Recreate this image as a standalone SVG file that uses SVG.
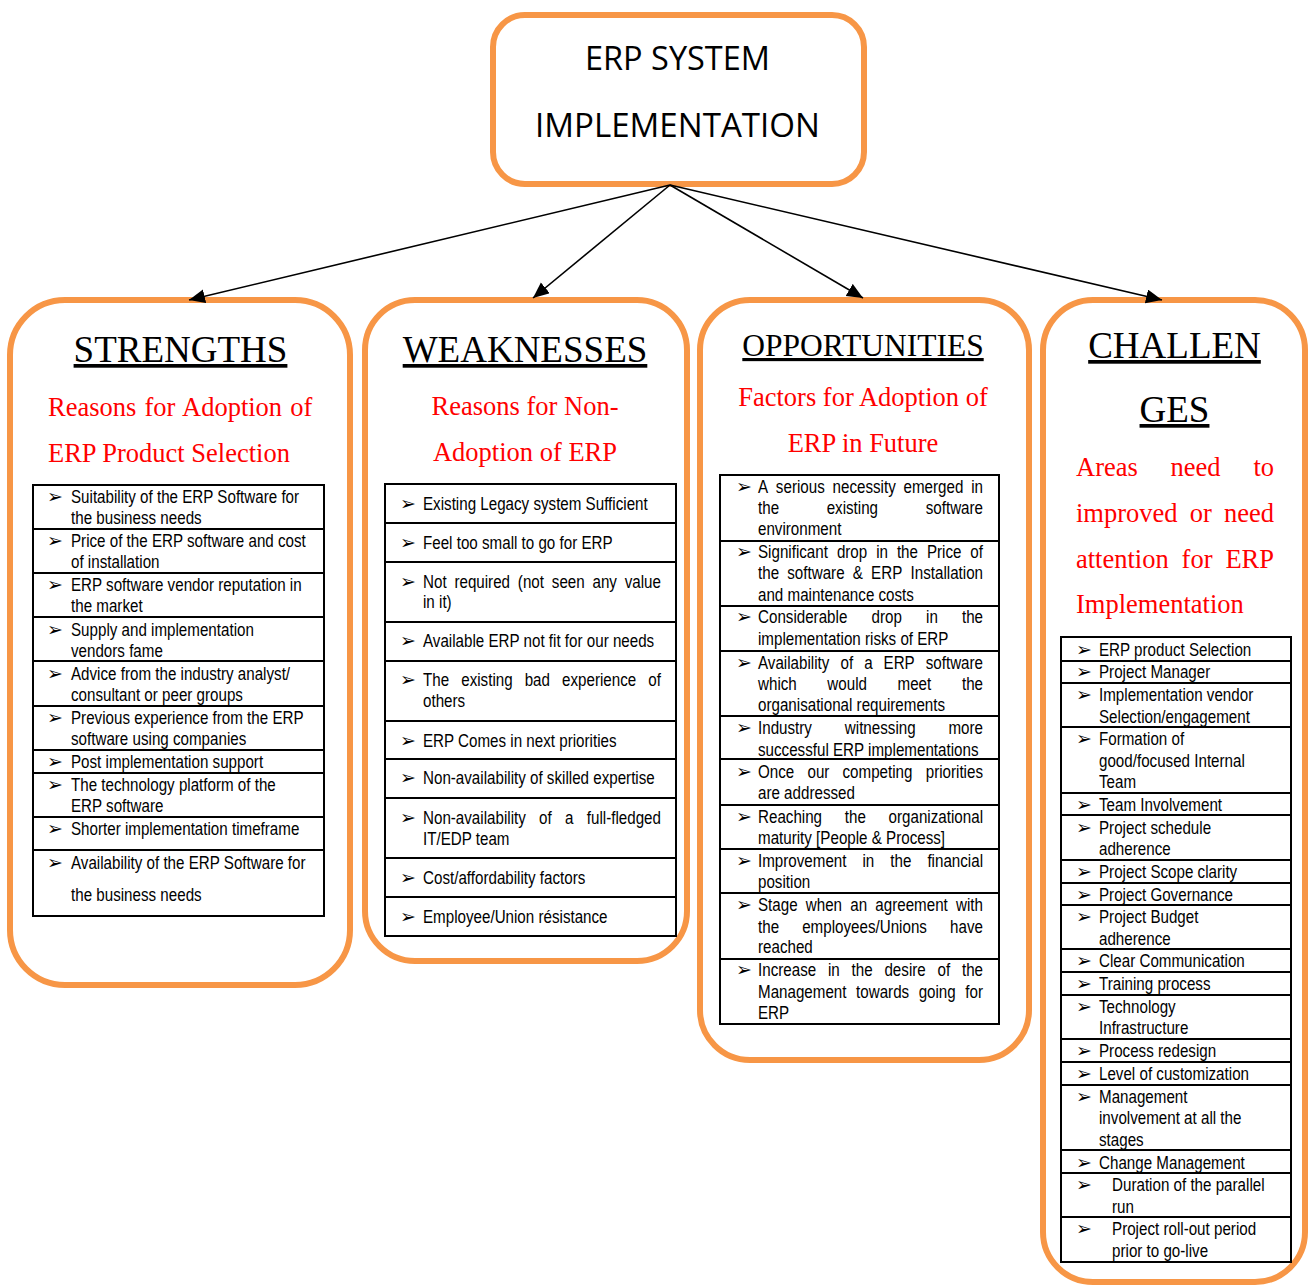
<svg xmlns="http://www.w3.org/2000/svg" width="1309" height="1286" viewBox="0 0 1309 1286">
  <style>
    .box { fill: #ffffff; stroke: #F79646; stroke-width: 6; }
    .tbl { fill: none; stroke: #000000; stroke-width: 2; }
    .sep { stroke: #000000; stroke-width: 2; }
    .link { stroke: #000000; stroke-width: 1.6; fill: none; marker-end: url(#head); }
    .title { font-family: 'Open Sans', 'Liberation Sans', sans-serif; font-size: 32px; fill: #000000; text-anchor: middle; }
    .hdr { font-family: 'Liberation Serif', 'Times New Roman', serif; font-size: 37px; fill: #000000; text-anchor: middle; text-decoration: underline; }
    .sub { font-family: 'Liberation Serif', 'Times New Roman', serif; font-size: 26.5px; fill: #FF0000; }
    .mid { text-anchor: middle; }
    .end { text-anchor: end; }
    .it { font-family: 'Liberation Sans', Arial, sans-serif; font-size: 18.5px; fill: #000000; }
    .blt { font-family: 'DejaVu Sans', sans-serif; font-size: 19px; fill: #000000; }
  </style>
  <defs>
    <marker id="head" markerUnits="userSpaceOnUse" markerWidth="18" markerHeight="15" refX="16" refY="7" orient="auto">
      <path d="M0,0 L16,7 L0,14 z" fill="#000000"/>
    </marker>
  </defs>

  <rect width="1309" height="1286" fill="#ffffff"/>

  <!-- root -->
  <g id="erp-system">
    <rect class="box" x="493" y="15" width="371" height="169" rx="32"/>
    <text class="title" x="677.5" y="70" textLength="185" lengthAdjust="spacingAndGlyphs">ERP SYSTEM</text>
    <text class="title" x="677.5" y="137" textLength="285" lengthAdjust="spacingAndGlyphs">IMPLEMENTATION</text>
  </g>

  <!-- strengths -->
  <g id="strengths">
    <rect class="box" x="10" y="300" width="340" height="685" rx="55"/>
    <text class="hdr" x="180.5" y="362">STRENGTHS</text>
    <text class="sub" x="48" y="416" word-spacing="1.5">Reasons for Adoption of</text>
    <text class="sub" x="48" y="462">ERP Product Selection</text>
    <rect class="tbl" x="33" y="485" width="291" height="431"/>
    <g class="sep">
      <line x1="33" y1="529" x2="324" y2="529"/>
      <line x1="33" y1="573" x2="324" y2="573"/>
      <line x1="33" y1="617" x2="324" y2="617"/>
      <line x1="33" y1="661" x2="324" y2="661"/>
      <line x1="33" y1="706" x2="324" y2="706"/>
      <line x1="33" y1="750" x2="324" y2="750"/>
      <line x1="33" y1="773" x2="324" y2="773"/>
      <line x1="33" y1="817" x2="324" y2="817"/>
      <line x1="33" y1="850" x2="324" y2="850"/>
    </g>
    <g class="blt">
      <text x="47" y="503">➢</text><text x="47" y="547">➢</text><text x="47" y="591">➢</text>
      <text x="47" y="636">➢</text><text x="47" y="680">➢</text><text x="47" y="724">➢</text>
      <text x="47" y="768">➢</text><text x="47" y="791">➢</text><text x="47" y="835">➢</text>
      <text x="47" y="869">➢</text>
    </g>
    <g class="it" transform="translate(71 0) scale(0.82 1)">
      <text x="0" y="503">Suitability of the ERP Software for</text>
      <text x="0" y="524">the business needs</text>
      <text x="0" y="547">Price of the ERP software and cost</text>
      <text x="0" y="568">of installation</text>
      <text x="0" y="591">ERP software vendor reputation in</text>
      <text x="0" y="612">the market</text>
      <text x="0" y="636">Supply and implementation</text>
      <text x="0" y="657">vendors fame</text>
      <text x="0" y="680">Advice from the industry analyst/</text>
      <text x="0" y="701">consultant or peer groups</text>
      <text x="0" y="724">Previous experience from the ERP</text>
      <text x="0" y="745">software using companies</text>
      <text x="0" y="768">Post implementation support</text>
      <text x="0" y="791">The technology platform of the</text>
      <text x="0" y="812">ERP software</text>
      <text x="0" y="835">Shorter implementation timeframe</text>
      <text x="0" y="869">Availability of the ERP Software for</text>
      <text x="0" y="901">the business needs</text>
    </g>
  </g>

  <!-- weaknesses -->
  <g id="weaknesses">
    <rect class="box" x="365" y="300" width="322" height="661" rx="50"/>
    <text class="hdr" x="525" y="362">WEAKNESSES</text>
    <text class="sub mid" x="525" y="415">Reasons for Non-</text>
    <text class="sub mid" x="525" y="461">Adoption of ERP</text>
    <rect class="tbl" x="385" y="484" width="291" height="452"/>
    <g class="sep">
      <line x1="385" y1="523" x2="676" y2="523"/>
      <line x1="385" y1="562" x2="676" y2="562"/>
      <line x1="385" y1="622" x2="676" y2="622"/>
      <line x1="385" y1="661" x2="676" y2="661"/>
      <line x1="385" y1="721" x2="676" y2="721"/>
      <line x1="385" y1="759" x2="676" y2="759"/>
      <line x1="385" y1="798" x2="676" y2="798"/>
      <line x1="385" y1="858" x2="676" y2="858"/>
      <line x1="385" y1="897" x2="676" y2="897"/>
    </g>
    <g class="blt">
      <text x="400" y="510">➢</text><text x="400" y="549">➢</text><text x="400" y="588">➢</text>
      <text x="400" y="647">➢</text><text x="400" y="686">➢</text><text x="400" y="747">➢</text>
      <text x="400" y="784">➢</text><text x="400" y="824">➢</text><text x="400" y="884">➢</text>
      <text x="400" y="923">➢</text>
    </g>
    <g class="it" transform="translate(423 0) scale(0.82 1)">
      <text x="0" y="510">Existing Legacy system Sufficient</text>
      <text x="0" y="549">Feel too small to go for ERP</text>
      <text y="588"><tspan x="0">Not</tspan><tspan x="38.3">required</tspan><tspan x="115.7">(not</tspan><tspan x="157.1">seen</tspan><tspan x="206.7">any</tspan></text>
      <text class="end" x="290.2" y="588">value</text>
      <text x="0" y="608">in it)</text>
      <text x="0" y="647">Available ERP not fit for our needs</text>
      <text y="686"><tspan x="0">The</tspan><tspan x="46.6">existing</tspan><tspan x="124">bad</tspan><tspan x="169.6">experience</tspan></text>
      <text class="end" x="290.2" y="686">of</text>
      <text x="0" y="707">others</text>
      <text x="0" y="747">ERP Comes in next priorities</text>
      <text x="0" y="784">Non-availability of skilled expertise</text>
      <text y="824"><tspan x="0">Non-availability</tspan><tspan x="141.6">of</tspan><tspan x="173.3">a</tspan></text>
      <text class="end" x="290.2" y="824">full-fledged</text>
      <text x="0" y="845">IT/EDP team</text>
      <text x="0" y="884">Cost/affordability factors</text>
      <text x="0" y="923">Employee/Union résistance</text>
    </g>
  </g>

  <!-- opportunities -->
  <g id="opportunities">
    <rect class="box" x="700" y="300" width="329" height="760" rx="50"/>
    <text class="hdr" x="863" y="356" style="font-size:31.5px">OPPORTUNITIES</text>
    <text class="sub mid" x="863" y="406">Factors for Adoption of</text>
    <text class="sub mid" x="863" y="452">ERP in Future</text>
    <rect class="tbl" x="720" y="475" width="279" height="549"/>
    <g class="sep">
      <line x1="720" y1="541" x2="999" y2="541"/>
      <line x1="720" y1="606" x2="999" y2="606"/>
      <line x1="720" y1="651" x2="999" y2="651"/>
      <line x1="720" y1="716" x2="999" y2="716"/>
      <line x1="720" y1="759" x2="999" y2="759"/>
      <line x1="720" y1="805" x2="999" y2="805"/>
      <line x1="720" y1="849" x2="999" y2="849"/>
      <line x1="720" y1="893" x2="999" y2="893"/>
      <line x1="720" y1="959" x2="999" y2="959"/>
    </g>
    <g class="blt">
      <text x="736" y="493">➢</text><text x="736" y="558">➢</text><text x="736" y="623">➢</text>
      <text x="736" y="669">➢</text><text x="736" y="734">➢</text><text x="736" y="778">➢</text>
      <text x="736" y="823">➢</text><text x="736" y="867">➢</text><text x="736" y="911">➢</text>
      <text x="736" y="976">➢</text>
    </g>
    <g class="it" transform="translate(758 0) scale(0.82 1)">
      <text y="493"><tspan x="0">A</tspan><tspan x="21.8">serious</tspan><tspan x="90.9">necessity</tspan><tspan x="177.5">emerged</tspan></text>
      <text class="end" x="274.4" y="493">in</text>
      <text y="514"><tspan x="0">the</tspan><tspan x="83.7">existing</tspan></text>
      <text class="end" x="274.4" y="514">software</text>
      <text x="0" y="535">environment</text>

      <text y="558"><tspan x="0">Significant</tspan><tspan x="96.2">drop</tspan><tspan x="144.1">in</tspan><tspan x="169.4">the</tspan><tspan x="206">Price</tspan></text>
      <text class="end" x="274.4" y="558">of</text>
      <text y="579"><tspan x="0">the</tspan><tspan x="35.7">software</tspan><tspan x="115.6">&amp;</tspan><tspan x="137.9">ERP</tspan></text>
      <text class="end" x="274.4" y="579">Installation</text>
      <text x="0" y="601">and maintenance costs</text>

      <text y="623"><tspan x="0">Considerable</tspan><tspan x="138.4">drop</tspan><tspan x="204.9">in</tspan></text>
      <text class="end" x="274.4" y="623">the</text>
      <text x="0" y="645">implementation risks of ERP</text>

      <text y="669"><tspan x="0">Availability</tspan><tspan x="100.7">of</tspan><tspan x="129.5">a</tspan><tspan x="153.1">ERP</tspan></text>
      <text class="end" x="274.4" y="669">software</text>
      <text y="690"><tspan x="0">which</tspan><tspan x="84.6">would</tspan><tspan x="170.2">meet</tspan></text>
      <text class="end" x="274.4" y="690">the</text>
      <text x="0" y="711">organisational requirements</text>

      <text y="734"><tspan x="0">Industry</tspan><tspan x="105.9">witnessing</tspan></text>
      <text class="end" x="274.4" y="734">more</text>
      <text x="0" y="756">successful ERP implementations</text>

      <text y="778"><tspan x="0">Once</tspan><tspan x="60.3">our</tspan><tspan x="103.1">competing</tspan></text>
      <text class="end" x="274.4" y="778">priorities</text>
      <text x="0" y="799">are addressed</text>

      <text y="823"><tspan x="0">Reaching</tspan><tspan x="105.8">the</tspan></text>
      <text class="end" x="274.4" y="823">organizational</text>
      <text x="0" y="844">maturity [People &amp; Process]</text>

      <text y="867"><tspan x="0">Improvement</tspan><tspan x="127.4">in</tspan><tspan x="161.3">the</tspan></text>
      <text class="end" x="274.4" y="867">financial</text>
      <text x="0" y="888">position</text>

      <text y="911"><tspan x="0">Stage</tspan><tspan x="58.3">when</tspan><tspan x="112.5">an</tspan><tspan x="143.1">agreement</tspan></text>
      <text class="end" x="274.4" y="911">with</text>
      <text y="933"><tspan x="0">the</tspan><tspan x="53.9">employees/Unions</tspan></text>
      <text class="end" x="274.4" y="933">have</text>
      <text x="0" y="953">reached</text>

      <text y="976"><tspan x="0">Increase</tspan><tspan x="85.3">in</tspan><tspan x="114.1">the</tspan><tspan x="154.2">desire</tspan><tspan x="218.9">of</tspan></text>
      <text class="end" x="274.4" y="976">the</text>
      <text y="998"><tspan x="0">Management</tspan><tspan x="119.6">towards</tspan><tspan x="195.9">going</tspan></text>
      <text class="end" x="274.4" y="998">for</text>
      <text x="0" y="1019">ERP</text>
    </g>
  </g>

  <!-- challenges -->
  <g id="challenges">
    <rect class="box" x="1043" y="300" width="262" height="982" rx="50"/>
    <text class="hdr" x="1174.5" y="358">CHALLEN</text>
    <text class="hdr" x="1174.5" y="422">GES</text>
    <text class="sub" x="1076" y="476">Areas</text>
    <text class="sub" x="1170.6" y="476">need</text>
    <text class="sub end" x="1274" y="476">to</text>
    <text class="sub" x="1076" y="522">improved</text>
    <text class="sub" x="1189.7" y="522">or</text>
    <text class="sub end" x="1274" y="522">need</text>
    <text class="sub" x="1076" y="568">attention</text>
    <text class="sub" x="1181.6" y="568">for</text>
    <text class="sub end" x="1274" y="568">ERP</text>
    <text class="sub" x="1076" y="613">Implementation</text>
    <rect class="tbl" x="1061" y="637" width="230" height="625"/>
    <g class="sep">
      <line x1="1061" y1="661" x2="1291" y2="661"/>
      <line x1="1061" y1="683" x2="1291" y2="683"/>
      <line x1="1061" y1="727" x2="1291" y2="727"/>
      <line x1="1061" y1="793" x2="1291" y2="793"/>
      <line x1="1061" y1="815" x2="1291" y2="815"/>
      <line x1="1061" y1="860" x2="1291" y2="860"/>
      <line x1="1061" y1="883" x2="1291" y2="883"/>
      <line x1="1061" y1="905" x2="1291" y2="905"/>
      <line x1="1061" y1="949" x2="1291" y2="949"/>
      <line x1="1061" y1="972" x2="1291" y2="972"/>
      <line x1="1061" y1="995" x2="1291" y2="995"/>
      <line x1="1061" y1="1039" x2="1291" y2="1039"/>
      <line x1="1061" y1="1062" x2="1291" y2="1062"/>
      <line x1="1061" y1="1085" x2="1291" y2="1085"/>
      <line x1="1061" y1="1150" x2="1291" y2="1150"/>
      <line x1="1061" y1="1173" x2="1291" y2="1173"/>
      <line x1="1061" y1="1217" x2="1291" y2="1217"/>
    </g>
    <g class="blt">
      <text x="1076" y="656">➢</text><text x="1076" y="678">➢</text><text x="1076" y="701">➢</text>
      <text x="1076" y="745">➢</text><text x="1076" y="811">➢</text><text x="1076" y="834">➢</text>
      <text x="1076" y="878">➢</text><text x="1076" y="901">➢</text><text x="1076" y="923">➢</text>
      <text x="1076" y="967">➢</text><text x="1076" y="990">➢</text><text x="1076" y="1013">➢</text>
      <text x="1076" y="1057">➢</text><text x="1076" y="1080">➢</text><text x="1076" y="1103">➢</text>
      <text x="1076" y="1169">➢</text><text x="1076" y="1191">➢</text><text x="1076" y="1235">➢</text>
    </g>
    <g class="it" transform="translate(1099 0) scale(0.82 1)">
      <text x="0" y="656">ERP product Selection</text>
      <text x="0" y="678">Project Manager</text>
      <text x="0" y="701">Implementation vendor</text>
      <text x="0" y="723">Selection/engagement</text>
      <text x="0" y="745">Formation of</text>
      <text x="0" y="767">good/focused Internal</text>
      <text x="0" y="788">Team</text>
      <text x="0" y="811">Team Involvement</text>
      <text x="0" y="834">Project schedule</text>
      <text x="0" y="855">adherence</text>
      <text x="0" y="878">Project Scope clarity</text>
      <text x="0" y="901">Project Governance</text>
      <text x="0" y="923">Project Budget</text>
      <text x="0" y="945">adherence</text>
      <text x="0" y="967">Clear Communication</text>
      <text x="0" y="990">Training process</text>
      <text x="0" y="1013">Technology</text>
      <text x="0" y="1034">Infrastructure</text>
      <text x="0" y="1057">Process redesign</text>
      <text x="0" y="1080">Level of customization</text>
      <text x="0" y="1103">Management</text>
      <text x="0" y="1124">involvement at all the</text>
      <text x="0" y="1146">stages</text>
      <text x="0" y="1169">Change Management</text>
      <text x="15.9" y="1191">Duration of the parallel</text>
      <text x="15.9" y="1213">run</text>
      <text x="15.9" y="1235">Project roll-out period</text>
      <text x="15.9" y="1257">prior to go-live</text>
    </g>
  </g>

  <!-- connectors, drawn last so the arrowheads sit on the box borders -->
  <g id="connectors">
    <line class="link" x1="670" y1="185" x2="189" y2="300"/>
    <line class="link" x1="670" y1="185" x2="533" y2="298"/>
    <line class="link" x1="670" y1="185" x2="863" y2="298"/>
    <line class="link" x1="670" y1="185" x2="1162" y2="300"/>
  </g>
</svg>
